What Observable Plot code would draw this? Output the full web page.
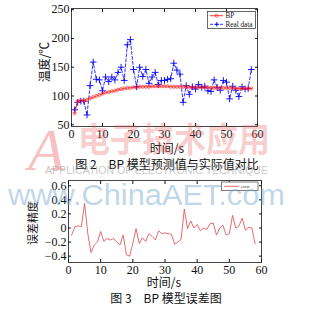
<!DOCTYPE html>
<html><head><meta charset="utf-8">
<script src="https://cdn.jsdelivr.net/npm/d3@7"></script>
<script src="https://cdn.jsdelivr.net/npm/@observablehq/plot@0.6"></script>
<style>
body{margin:0;background:#fff;}
#wrap{position:relative;width:329px;height:309px;overflow:hidden;background:#fff;}
.abs{position:absolute;white-space:nowrap;}
.cjk{font-family:"Noto Sans CJK SC",sans-serif;color:#111;}
</style></head><body><div id="wrap"></div>
<script>
// ---- data ----
const time = [1,2,3,4,5,6,7,8,9,10,11,12,13,14,15,16,17,18,19,20,21,22,23,24,25,26,27,28,29,30,
  31,32,33,34,35,36,37,38,39,40,41,42,43,44,45,46,47,48,49,50,51,52,53,54,55,56,57,58];
const bpValues = [70,91,92,92,93,96,98,100,102,104,106,107,108,109,111,112,113,114,114,115,
  115,116,116,116,116,117,117,117,117,117,117,116,116,116,116,116,116,115,115,115,
  115,115,115,115,114,114,114,114,114,114,114,114,113,113,113,113,113,113];
const realValues = [76,89,91,91,67,118,159,129,128,109,133,125,133,128,141,150,127,189,198,146,
  116,150,134,146,122,133,141,120,127,127,129,130,157,145,138,89,118,103,116,112,
  120,115,117,109,108,128,115,110,127,124,95,117,110,99,116,112,113,146];
const errorValues = [-0.10,0.02,0.03,0.02,0.35,-0.08,-0.35,-0.24,-0.20,-0.05,-0.19,-0.15,-0.17,-0.15,-0.20,-0.24,-0.10,-0.38,-0.40,-0.22,
  -0.01,-0.22,-0.14,-0.19,-0.08,-0.12,-0.17,-0.04,-0.08,-0.07,-0.08,-0.09,-0.23,-0.20,-0.16,0.27,-0.01,0.10,0.00,0.05,
  -0.04,0.00,-0.02,0.06,0.07,-0.10,0.00,0.04,-0.10,-0.08,0.18,0.00,0.03,0.14,-0.03,0.01,0.00,-0.22];
const xTicks = [0,10,20,30,40,50,60];
const tempTicks = [50,100,150,200,250];
const errorTicks = [-0.4,-0.2,0,0.2,0.4,0.6];
const seriesLabels = ["BP","Real data"];
const errorLabel = "error";
const tempAxisLabel = "温度/℃";
const errAxisLabel = "误差精度";
const timeLabel = "时间/s";
const caption2 = "图 2　BP 模型预测值与实际值对比";
const caption3 = "图 3　BP 模型误差图";

const wrap = document.getElementById("wrap");
const serif = "'Liberation Serif','Times New Roman',serif";
const blank = () => "";

// ---- top chart ----
const topData = time.map((t, i) => ({t, bp: bpValues[i], real: realValues[i]}));
const chartTop = Plot.plot({
  width: 329, height: 142, marginTop: 8, marginBottom: 16, marginLeft: 71, marginRight: 72,
  style: {fontFamily: serif, fontSize: "12px", color: "#111", background: "transparent"},
  x: {domain: [0, 60]}, y: {domain: [47, 252]},
  marks: [
    Plot.frame({stroke: "#444"}),
    Plot.axisX(xTicks, {anchor: "bottom", tickSize: -3, tickPadding: 6, label: null, fontSize: 12}),
    Plot.axisX(xTicks, {anchor: "top", tickSize: -3, tickFormat: blank, label: null}),
    Plot.axisY(tempTicks, {anchor: "left", tickSize: -3, tickPadding: 5, label: null, fontSize: 12}),
    Plot.axisY(tempTicks, {anchor: "right", tickSize: -3, tickFormat: blank, label: null}),
    Plot.line(topData, {x: "t", y: "real", stroke: "#0000ff", strokeWidth: 0.8, strokeDasharray: "3,2"}),
    Plot.dot(topData, {x: "t", y: "real", symbol: "plus", r: 2.3, stroke: "#0000ff", strokeWidth: 0.9}),
    Plot.line(topData, {x: "t", y: "bp", stroke: "#ff0000", strokeWidth: 0.8}),
    Plot.dot(topData, {x: "t", y: "bp", r: 1.6, stroke: "#ff3030", strokeWidth: 0.7, fill: "none"})
  ]
});
chartTop.style.position = "absolute"; chartTop.style.left = "0px"; chartTop.style.top = "0px";
wrap.appendChild(chartTop);

// ---- bottom chart ----
const errData = time.map((t, i) => ({t, err: errorValues[i]}));
const chartBottom = Plot.plot({
  width: 329, height: 106, marginTop: 10, marginBottom: 14, marginLeft: 68, marginRight: 68,
  style: {fontFamily: serif, fontSize: "12px", color: "#111", background: "transparent"},
  x: {domain: [0, 60]}, y: {domain: [-0.49, 0.675]},
  marks: [
    Plot.frame({stroke: "#444"}),
    Plot.axisX(xTicks, {anchor: "bottom", tickSize: -3, tickPadding: 6, label: null, fontSize: 12}),
    Plot.axisX(xTicks, {anchor: "top", tickSize: -3, tickFormat: blank, label: null}),
    Plot.axisY(errorTicks, {anchor: "left", tickSize: -3, tickPadding: 5, label: null, fontSize: 12,
      tickFormat: d => d === 0 ? "0" : d3.format(".1f")(d)}),
    Plot.axisY(errorTicks, {anchor: "right", tickSize: -3, tickFormat: blank, label: null}),
    Plot.line(errData, {x: "t", y: "err", stroke: "#e04848", strokeWidth: 0.8})
  ]
});
chartBottom.style.position = "absolute"; chartBottom.style.left = "0px"; chartBottom.style.top = "170px";
wrap.appendChild(chartBottom);

// ---- texts ----
function addText(txt, css, cls) {
  const d = document.createElement("div");
  d.className = "abs " + (cls || "");
  d.textContent = txt;
  Object.assign(d.style, css);
  wrap.appendChild(d);
  return d;
}
addText(tempAxisLabel, {left: "43px", top: "62px", fontSize: "12px", transform: "translate(-50%,-50%) rotate(-90deg)"}, "cjk");
addText(timeLabel, {left: "167px", top: "147px", fontSize: "12px", transform: "translate(-50%,-50%)"}, "cjk");
addText(caption2, {left: "167px", top: "163px", fontSize: "12px", transform: "translate(-50%,-50%)"}, "cjk");
addText(errAxisLabel, {left: "32px", top: "223px", fontSize: "11px", transform: "translate(-50%,-50%) rotate(-90deg)"}, "cjk");
addText(timeLabel, {left: "164px", top: "281px", fontSize: "12px", transform: "translate(-50%,-50%)"}, "cjk");
addText(caption3, {left: "166px", top: "297px", fontSize: "12px", transform: "translate(-50%,-50%)"}, "cjk");

// ---- legends & watermarks (overlay svg) ----
const ov = d3.select(wrap).append("svg")
  .attr("width", 329).attr("height", 309)
  .style("position", "absolute").style("left", "0px").style("top", "0px");
// top legend
ov.append("rect").attr("x", 207.5).attr("y", 11.5).attr("width", 48).attr("height", 17)
  .attr("fill", "#fff").attr("stroke", "#444").attr("stroke-width", 0.8);
ov.append("line").attr("x1", 210).attr("x2", 223).attr("y1", 15.7).attr("y2", 15.7).attr("stroke", "#ff0000").attr("stroke-width", 0.8);
ov.append("circle").attr("cx", 216.5).attr("cy", 15.7).attr("r", 1.6).attr("fill", "none").attr("stroke", "#ff3030").attr("stroke-width", 0.7);
ov.append("line").attr("x1", 210).attr("x2", 223).attr("y1", 24.3).attr("y2", 24.3).attr("stroke", "#0000ff").attr("stroke-width", 0.8).attr("stroke-dasharray", "3,2");
ov.append("path").attr("d", "M214.5,24.3h4.6M216.8,22v4.6").attr("stroke", "#0000ff").attr("stroke-width", 0.9);
seriesLabels.forEach((s, i) => ov.append("text").attr("x", 225.5).attr("y", 18 + i * 8.6)
  .attr("font-family", serif).attr("font-size", 7.2).attr("fill", "#111").text(s));
// error legend
ov.append("rect").attr("x", 221.5).attr("y", 182).attr("width", 36.5).attr("height", 8.5)
  .attr("fill", "#fff").attr("stroke", "#444").attr("stroke-width", 0.7);
ov.append("line").attr("x1", 224).attr("x2", 239).attr("y1", 186.3).attr("y2", 186.3).attr("stroke", "#e04848").attr("stroke-width", 0.8);
ov.append("text").attr("x", 241).attr("y", 188).attr("font-family", serif).attr("font-size", 4.5).attr("fill", "#333").text(errorLabel);

// watermarks
const wm = ov.append("g").style("pointer-events", "none");
wm.append("text").attr("x", 28).attr("y", 170).attr("font-family", "'Liberation Serif',serif").attr("font-style", "italic")
  .attr("font-size", 60).attr("fill", "rgba(235,100,100,0.4)").text("A");
wm.append("text").attr("x", 78).attr("y", 152).attr("font-family", "'Noto Sans CJK SC',sans-serif").attr("font-weight", 700)
  .attr("font-size", 34).attr("textLength", 192).attr("lengthAdjust", "spacingAndGlyphs")
  .attr("fill", "rgba(235,100,100,0.32)").text("电子技术应用");
wm.append("text").attr("x", 45).attr("y", 174).attr("font-family", "'Liberation Sans',sans-serif")
  .attr("font-size", 11).attr("textLength", 223).attr("lengthAdjust", "spacingAndGlyphs")
  .attr("fill", "rgba(150,150,150,0.55)").text("APPLICATION OF ELECTRONIC TECHNIQUE");
wm.append("text").attr("x", 8).attr("y", 205).attr("font-family", "'Liberation Sans',sans-serif")
  .attr("font-size", 30).attr("textLength", 277).attr("lengthAdjust", "spacingAndGlyphs")
  .attr("fill", "rgba(110,165,205,0.45)").text("www.ChinaAET.com");
</script></body></html>
